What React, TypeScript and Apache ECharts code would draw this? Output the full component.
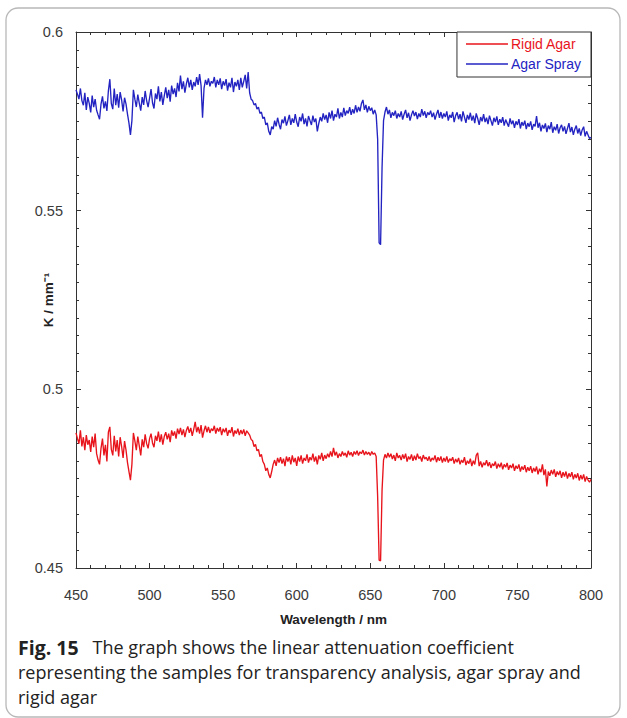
import React, { useEffect, useRef } from "react";
import * as echarts from "echarts";

const WL_START = 450;
const WL_STEP = 1;

const xTicks = [450, 500, 550, 600, 650, 700, 750, 800];
const yTicks = [0.45, 0.5, 0.55, 0.6];

const seriesNames = ["Rigid Agar", "Agar Spray"];

// Rigid Agar, 450..800 nm every 1 nm (rows of 10 nm)
const rigidAgar = [
  0.4878, 0.4862, 0.4848, 0.4885, 0.4840, 0.4866, 0.4830, 0.4872, 0.4845, 0.4858,
  0.4825, 0.4868, 0.4838, 0.4876, 0.4820, 0.4802, 0.4790, 0.4835, 0.4862, 0.4815,
  0.4845, 0.4798, 0.4880, 0.4895, 0.4832, 0.4815, 0.4870, 0.4826, 0.4858, 0.4812,
  0.4866, 0.4840, 0.4808, 0.4855, 0.4830, 0.4795, 0.4770, 0.4746, 0.4790, 0.4878,
  0.4856, 0.4830, 0.4868, 0.4842, 0.4815, 0.4860, 0.4838, 0.4874, 0.4848, 0.4835,
  0.4862, 0.4876, 0.4850, 0.4838, 0.4870, 0.4856, 0.4882, 0.4852, 0.4874, 0.4845,
  0.4868, 0.4880, 0.4860, 0.4876, 0.4852, 0.4885, 0.4870, 0.4882, 0.4862, 0.4890,
  0.4875, 0.4892, 0.4872, 0.4888, 0.4866, 0.4885, 0.4896, 0.4878, 0.4892, 0.4870,
  0.4888, 0.4909, 0.4880, 0.4895, 0.4876, 0.4900, 0.4865, 0.4884, 0.4898, 0.4880,
  0.4895, 0.4878, 0.4890, 0.4884, 0.4898, 0.4876, 0.4892, 0.4882, 0.4894, 0.4872,
  0.4890, 0.4880, 0.4892, 0.4870, 0.4886, 0.4878, 0.4894, 0.4868, 0.4885, 0.4876,
  0.4890, 0.4872, 0.4886, 0.4875, 0.4888, 0.4870, 0.4884, 0.4878, 0.4872, 0.4860,
  0.4856, 0.4840, 0.4846, 0.4828, 0.4832, 0.4812, 0.4818, 0.4798, 0.4790, 0.4772,
  0.4780, 0.4762, 0.4752, 0.4770, 0.4790, 0.4802, 0.4786, 0.4808, 0.4795, 0.4810,
  0.4792, 0.4806, 0.4785, 0.4812, 0.4798, 0.4810, 0.4790, 0.4815, 0.4796, 0.4808,
  0.4786, 0.4812, 0.4798, 0.4815, 0.4792, 0.4808, 0.4800, 0.4818, 0.4795, 0.4810,
  0.4802, 0.4820, 0.4798, 0.4812, 0.4790, 0.4815, 0.4804, 0.4822, 0.4800, 0.4816,
  0.4806, 0.4820, 0.4810, 0.4826, 0.4812, 0.4836, 0.4815, 0.4825, 0.4808, 0.4820,
  0.4812, 0.4826, 0.4815, 0.4822, 0.4810, 0.4828, 0.4816, 0.4824, 0.4812, 0.4826,
  0.4818, 0.4828, 0.4815, 0.4825, 0.4820, 0.4830, 0.4816, 0.4826, 0.4818, 0.4824,
  0.4815, 0.4826, 0.4818, 0.4822, 0.4812, 0.4700, 0.4522, 0.4520, 0.4718, 0.4802,
  0.4818, 0.4808, 0.4822, 0.4810, 0.4820, 0.4805, 0.4816, 0.4800, 0.4822, 0.4808,
  0.4815, 0.4802, 0.4818, 0.4806, 0.4820, 0.4798, 0.4812, 0.4804, 0.4818, 0.4800,
  0.4814, 0.4802, 0.4820, 0.4806, 0.4812, 0.4798, 0.4816, 0.4805, 0.4810, 0.4800,
  0.4812, 0.4798, 0.4808, 0.4802, 0.4815, 0.4796, 0.4810, 0.4800, 0.4812, 0.4795,
  0.4808, 0.4798, 0.4812, 0.4795, 0.4806, 0.4800, 0.4810, 0.4792, 0.4805, 0.4796,
  0.4808, 0.4790, 0.4802, 0.4795, 0.4810, 0.4788, 0.4800, 0.4792, 0.4806, 0.4785,
  0.4800, 0.4790, 0.4815, 0.4822, 0.4785, 0.4798, 0.4782, 0.4795, 0.4788, 0.4802,
  0.4785, 0.4796, 0.4780, 0.4792, 0.4786, 0.4798, 0.4778, 0.4792, 0.4782, 0.4795,
  0.4776, 0.4790, 0.4782, 0.4794, 0.4775, 0.4788, 0.4780, 0.4792, 0.4772, 0.4786,
  0.4778, 0.4790, 0.4770, 0.4784, 0.4775, 0.4788, 0.4768, 0.4782, 0.4772, 0.4785,
  0.4766, 0.4780, 0.4770, 0.4784, 0.4762, 0.4778, 0.4768, 0.4790, 0.4760, 0.4776,
  0.4728, 0.4770, 0.4758, 0.4774, 0.4762, 0.4776, 0.4755, 0.4770, 0.4760, 0.4772,
  0.4752, 0.4768, 0.4756, 0.4770, 0.4750, 0.4765, 0.4755, 0.4768, 0.4748, 0.4762,
  0.4752, 0.4765, 0.4745, 0.4760, 0.4748, 0.4762, 0.4742, 0.4756, 0.4746, 0.4740,
  0.4748,
];

// Agar Spray, 450..800 nm every 1 nm (rows of 10 nm)
const agarSpray = [
  0.5838, 0.5826, 0.5812, 0.5842, 0.5808, 0.5795, 0.5830, 0.5782, 0.5818, 0.5800,
  0.5775, 0.5822, 0.5790, 0.5812, 0.5781, 0.5768, 0.5756, 0.5798, 0.5820, 0.5786,
  0.5806, 0.5779, 0.5835, 0.5868, 0.5800, 0.5784, 0.5842, 0.5795, 0.5826, 0.5788,
  0.5832, 0.5810, 0.5778, 0.5816, 0.5798, 0.5770, 0.5745, 0.5712, 0.5752, 0.5838,
  0.5812, 0.5790, 0.5825, 0.5801, 0.5780, 0.5818, 0.5796, 0.5835, 0.5808, 0.5790,
  0.5815, 0.5840, 0.5802, 0.5786, 0.5828, 0.5812, 0.5848, 0.5806, 0.5832, 0.5796,
  0.5822, 0.5845, 0.5815, 0.5838, 0.5805, 0.5850, 0.5826, 0.5842, 0.5818, 0.5858,
  0.5834, 0.5878, 0.5840, 0.5862, 0.5830, 0.5855, 0.5872, 0.5845, 0.5866, 0.5838,
  0.5860, 0.5848, 0.5874, 0.5852, 0.5882, 0.5850, 0.5760, 0.5842, 0.5866, 0.5852,
  0.5870, 0.5848, 0.5862, 0.5856, 0.5874, 0.5845, 0.5866, 0.5852, 0.5870, 0.5840,
  0.5862, 0.5850, 0.5868, 0.5836, 0.5858, 0.5845, 0.5872, 0.5832, 0.5860, 0.5848,
  0.5866, 0.5838, 0.5872, 0.5845, 0.5862, 0.5880, 0.5842, 0.5888, 0.5830, 0.5812,
  0.5808, 0.5796, 0.5800, 0.5784, 0.5790, 0.5772, 0.5776, 0.5758, 0.5762, 0.5740,
  0.5746, 0.5722, 0.5712, 0.5735, 0.5728, 0.5752, 0.5736, 0.5760, 0.5742, 0.5728,
  0.5755, 0.5745, 0.5764, 0.5738, 0.5752, 0.5768, 0.5740, 0.5758, 0.5746, 0.5770,
  0.5748, 0.5735, 0.5762, 0.5750, 0.5772, 0.5742, 0.5758, 0.5736, 0.5765, 0.5752,
  0.5740, 0.5766, 0.5748, 0.5758, 0.5722, 0.5744, 0.5762, 0.5750, 0.5772, 0.5755,
  0.5768, 0.5746, 0.5775, 0.5758, 0.5780, 0.5752, 0.5770, 0.5762, 0.5786, 0.5758,
  0.5775, 0.5762, 0.5788, 0.5766, 0.5780, 0.5772, 0.5790, 0.5768, 0.5784, 0.5772,
  0.5795, 0.5775, 0.5790, 0.5778, 0.5800, 0.5810, 0.5782, 0.5796, 0.5775, 0.5792,
  0.5780, 0.5788, 0.5770, 0.5782, 0.5768, 0.5700, 0.5410, 0.5405, 0.5620, 0.5752,
  0.5776, 0.5790, 0.5770, 0.5782, 0.5760, 0.5775, 0.5766, 0.5780, 0.5758, 0.5772,
  0.5762, 0.5778, 0.5755, 0.5770, 0.5782, 0.5760, 0.5774, 0.5752, 0.5768, 0.5780,
  0.5765, 0.5776, 0.5756, 0.5772, 0.5762, 0.5784, 0.5766, 0.5778, 0.5760, 0.5775,
  0.5768, 0.5780, 0.5762, 0.5774, 0.5755, 0.5770, 0.5782, 0.5760, 0.5776, 0.5758,
  0.5772, 0.5762, 0.5778, 0.5752, 0.5768, 0.5760, 0.5776, 0.5748, 0.5766, 0.5775,
  0.5756, 0.5770, 0.5750, 0.5778, 0.5762, 0.5746, 0.5768, 0.5755, 0.5774, 0.5752,
  0.5766, 0.5745, 0.5772, 0.5758, 0.5740, 0.5762, 0.5750, 0.5770, 0.5748, 0.5760,
  0.5742, 0.5766, 0.5752, 0.5738, 0.5760, 0.5748, 0.5764, 0.5740, 0.5756, 0.5746,
  0.5762, 0.5738, 0.5755, 0.5745, 0.5735, 0.5758, 0.5742, 0.5752, 0.5732, 0.5750,
  0.5740, 0.5756, 0.5730, 0.5748, 0.5738, 0.5752, 0.5728, 0.5745, 0.5735, 0.5750,
  0.5726, 0.5742, 0.5736, 0.5765, 0.5732, 0.5746, 0.5722, 0.5740, 0.5730, 0.5744,
  0.5720, 0.5738, 0.5728, 0.5748, 0.5718, 0.5735, 0.5725, 0.5742, 0.5716, 0.5732,
  0.5740, 0.5722, 0.5736, 0.5715, 0.5730, 0.5745, 0.5720, 0.5734, 0.5712, 0.5728,
  0.5738, 0.5716, 0.5730, 0.5710, 0.5726, 0.5735, 0.5708, 0.5722, 0.5712, 0.5702,
  0.5705,
];

const captionLines = [
  "{b|Fig. 15}   The graph shows the linear attenuation coefficient",
  "representing the samples for transparency analysis, agar spray and",
  "rigid agar",
];

const RED = "#e8141c";
const BLUE = "#2323c2";
const AXIS = "#333333";

function pairs(values: number[]) {
  return values.map((v, i) => [WL_START + i * WL_STEP, v]);
}

export default function App() {
  const ref = useRef<HTMLDivElement>(null);

  useEffect(() => {
    document.body.style.margin = "0";
    if (!ref.current) return;
    const chart = echarts.init(ref.current, null, { renderer: "svg" });

    const xMin = xTicks[0];
    const xMax = xTicks[xTicks.length - 1];
    const yMin = yTicks[0];
    const yMax = yTicks[yTicks.length - 1];

    const common = {
      axisLine: { show: true, lineStyle: { color: AXIS, width: 1 } },
      axisTick: { show: true, inside: true, length: 5, lineStyle: { color: AXIS } },
      minorTick: { show: true, length: 3, lineStyle: { color: AXIS } },
      splitLine: { show: false },
    };
    const labelStyle = {
      color: "#3a3a3a",
      fontFamily: "Liberation Sans, Arial, sans-serif",
      fontSize: 14.5,
    };
    const nameStyle = {
      fontFamily: "Liberation Sans, Arial, sans-serif",
      fontWeight: "bold",
      fontSize: 13.5,
      color: "#222",
    };

    chart.setOption({
      animation: false,
      backgroundColor: "#ffffff",
      grid: { left: 76, right: 36, top: 32, bottom: 150, containLabel: false },
      legend: {
        show: true,
        orient: "vertical",
        right: 36,
        top: 32,
        backgroundColor: "#ffffff",
        borderColor: AXIS,
        borderWidth: 1,
        borderRadius: 0,
        padding: [5, 10, 6, 9],
        itemGap: 6,
        itemWidth: 42,
        itemHeight: 1.5,
        icon: "rect",
        data: [
          { name: seriesNames[0], textStyle: { color: RED } },
          { name: seriesNames[1], textStyle: { color: BLUE } },
        ],
        textStyle: {
          fontFamily: "Liberation Sans, Arial, sans-serif",
          fontSize: 14,
          padding: [0, 0, 0, -2],
        },
      },
      xAxis: [
        {
          type: "value",
          min: xMin,
          max: xMax,
          interval: 50,
          position: "bottom",
          ...common,
          minorTick: { ...common.minorTick, splitNumber: 5 },
          axisLabel: { ...labelStyle, margin: 19 },
          name: "Wavelength / nm",
          nameLocation: "middle",
          nameGap: 44,
          nameMoveOverlap: false,
          nameTextStyle: nameStyle,
        },
        {
          type: "value",
          min: xMin,
          max: xMax,
          interval: 50,
          position: "top",
          ...common,
          minorTick: { ...common.minorTick, splitNumber: 5 },
          axisLabel: { show: false },
        },
      ],
      yAxis: [
        {
          type: "value",
          min: yMin,
          max: yMax,
          interval: 0.05,
          position: "left",
          ...common,
          minorTick: { ...common.minorTick, splitNumber: 10 },
          axisLabel: { ...labelStyle, margin: 13 },
          name: "K / mm⁻¹",
          nameLocation: "middle",
          nameGap: 21,
          nameRotate: 90,
          nameMoveOverlap: false,
          nameTextStyle: nameStyle,
        },
        {
          type: "value",
          min: yMin,
          max: yMax,
          interval: 0.05,
          position: "right",
          ...common,
          minorTick: { ...common.minorTick, splitNumber: 10 },
          axisLabel: { show: false },
        },
      ],
      series: [
        {
          name: seriesNames[0],
          type: "line",
          xAxisIndex: 0,
          yAxisIndex: 0,
          showSymbol: false,
          symbol: "none",
          lineStyle: { color: RED, width: 1.35 },
          itemStyle: { color: RED },
          data: pairs(rigidAgar),
        },
        {
          name: seriesNames[1],
          type: "line",
          xAxisIndex: 0,
          yAxisIndex: 0,
          showSymbol: false,
          symbol: "none",
          lineStyle: { color: BLUE, width: 1.35 },
          itemStyle: { color: BLUE },
          data: pairs(agarSpray),
        },
      ],
      graphic: [
        {
          type: "rect",
          silent: true,
          z: -10,
          shape: { x: 6, y: 8, width: 614, height: 709, r: 12 },
          style: { fill: "none", stroke: "#b8b8b8", lineWidth: 1.3 },
        },
        ...captionLines.map((line, i) => ({
          type: "text",
          left: 18,
          top: 637 + i * 25.5,
          style: {
            text: line,
            fill: "#222",
            fontFamily: "Open Sans, Noto Sans, sans-serif",
            fontSize: 18,
            rich: {
              b: {
                fontFamily: "Open Sans, Noto Sans, sans-serif",
                fontWeight: "bold",
                fontSize: 19.5,
                fill: "#222",
              },
            },
          },
        })),
      ],
    });

    return () => {
      chart.dispose();
    };
  }, []);

  return <div ref={ref} style={{ width: 627, height: 718 }} />;
}
